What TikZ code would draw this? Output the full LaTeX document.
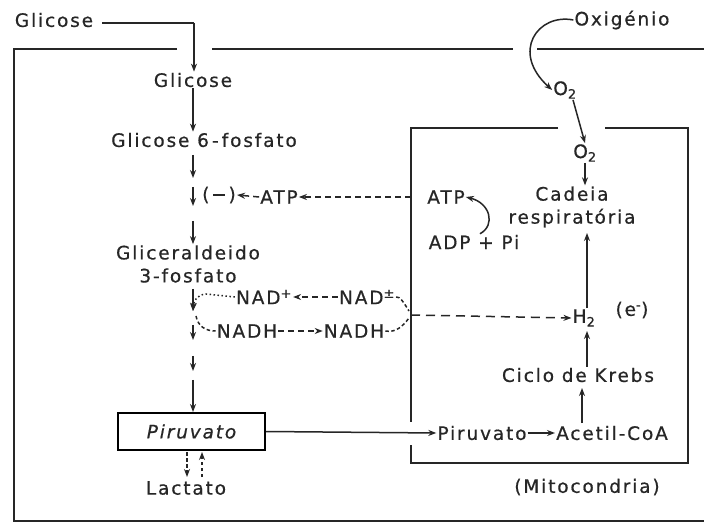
\documentclass[tikz,border=0pt]{standalone}
\usepackage{fontspec}
\setmainfont{DejaVu Sans}[LetterSpace=10,FakeBold=0.6]
\usetikzlibrary{arrows.meta}
\begin{document}
\begin{tikzpicture}[x=1pt,y=-1pt,
  lbl/.style={inner sep=1pt, text=black!85, font=\fontsize{18.5}{23}\selectfont},
  arr/.style={-{Stealth[length=8pt,width=6pt]}, line width=1.5pt, draw=black!85},
  ln/.style={line width=1.5pt, draw=black!85},
  frame/.style={line width=2.7pt, draw=black!85},
  dsh/.style={dash pattern=on 6pt off 4pt},
  sdsh/.style={dash pattern=on 3.5pt off 2.5pt},
  ldsh/.style={dash pattern=on 9pt off 6pt},
  dott/.style={dash pattern=on 1.5pt off 2.5pt}]
\useasboundingbox[fill=white] (0,0) rectangle (704,526);
% outer cell frame
\draw[frame] (177,49) -- (14,49) -- (14,521) -- (704,521);
\draw[frame] (212,49) -- (513,49);
\draw[frame] (537,49) -- (704,49);
% mitochondrion frame
\draw[frame,line width=2.3pt] (558,128) -- (411,128) -- (411,422);
\draw[frame,line width=2.3pt] (411,445) -- (411,463) -- (688,463) -- (688,128) -- (605,128);
% nodes
\node[lbl] (g0) at (54,20) {Glicose};
\node[lbl] (g1) at (193,80) {Glicose};
\node[lbl] (g6p) at (204,140) {Glicose 6\,-\,fosfato};
\node[lbl] (minus) at (219,195) {(−)};
\node[lbl] (atp1) at (279,197) {ATP};
\node[lbl,align=center] (ga) at (188,264) {Gliceraldeido\\3-fosfato};
\node[lbl] (nadp1) at (264,297) {NAD\textsuperscript{+}};
\node[lbl] (nadp2) at (367,297) {NAD\textsuperscript{±}};
\node[lbl] (nadh1) at (247,331) {NADH};
\node[lbl] (nadh2) at (354,331) {NADH};
\node[lbl,draw,line width=2pt,minimum width=147pt,minimum height=37pt,font=\fontsize{18.5}{23}\selectfont\itshape] (pir1) at (191.5,431.5) {Piruvato};
\node[lbl] (lac) at (186,488) {Lactato};
\node[lbl] (oxi) at (622,20) {Oxigénio};
\node[lbl] (o2a) at (565,90) {O\textsubscript{2}};
\node[lbl] (o2b) at (585,153) {O\textsubscript{2}};
\node[lbl,align=center] (cad) at (572,207) {Cadeia\\respiratória};
\node[lbl] (atp2) at (446,197) {ATP};
\node[lbl] (adp) at (474,242) {ADP + Pi};
\node[lbl] (h2) at (584,318) {H\textsubscript{2}};
\node[lbl] (el) at (632,310) {(e\textsuperscript{-})};
\node[lbl] (krebs) at (578,375) {Ciclo de Krebs};
\node[lbl] (pir2) at (482,433) {Piruvato};
\node[lbl] (acet) at (612,433) {Acetil-CoA};
\node[lbl] (mito) at (587,487) {(Mitocondria)};
% coordinates
\coordinate (gc) at (194,23);
\coordinate (a0s) at (193,155);
\coordinate (a1) at (193,178);
\coordinate (a2s) at (193,187);
\coordinate (a2) at (193,206);
\coordinate (a3s) at (193,221);
\coordinate (n1) at (193,311);
\coordinate (n2s) at (193,325);
\coordinate (n2) at (193,340);
\coordinate (n3s) at (193,356);
\coordinate (n3) at (193,371);
\coordinate (n4s) at (193,380);
\coordinate (e1) at (411,197);
\coordinate (e2) at (411,315);
% main glycolysis arrows
\draw[ln] (g0.east) ++(8,3) -- (gc);
\draw[arr] (gc) -- (g1.north -| gc);
\draw[arr] (g1.south) -- (g1.south |- g6p.north);
\draw[arr] (a0s) -- (a1);
\draw[arr] (a2s) -- (a2);
\draw[arr] (a3s) -- (a3s |- ga.north);
\draw[arr] (193,289) -- (n1);
\draw[arr] (n2s) -- (n2);
\draw[arr] (n3s) -- (n3);
\draw[arr] (n4s) -- (pir1.north -| n4s);
% lactate
\draw[arr,sdsh] (187,452) -- (187,477);
\draw[arr,sdsh] (202,477) -- (202,452);
% ATP control
\draw[arr,dsh] (e1) -- (atp1.east);
\draw[arr,dsh] (atp1.west) -- (minus.east);
% NAD shuttle
\draw[arr,dott] (nadp1.west) -- (206,294) .. controls (197,295) and (194,300) .. (n1);
\draw[ln,sdsh] (196,316) .. controls (198,326) and (205,331) .. (nadh1.west);
\draw[arr,dsh] (nadp2.west) -- (nadp1.east);
\draw[arr,dsh] (nadh1.east) -- (nadh2.west);
\draw[ln,sdsh] (nadp2.east) .. controls (400,296) and (404,303) .. (409,311);
\draw[ln,sdsh] (nadh2.east) .. controls (396,333) and (403,326) .. (409,318);
\draw[arr,ldsh] (e2) -- (h2.west);
% mitochondrion
\draw[arr] (oxi.west) .. controls (538,13) and (510,52) .. (o2a.west);
\draw[arr] (o2a.south) ++(8,0) -- (o2b.north);
\draw[arr] (o2b.south) -- (cad.north -| o2b);
\draw[arr] (h2.north) ++(3,0) -- (587,233);
\draw[arr] (krebs.north -| h2) ++(3,0) -- (587,331);
\draw[arr] (582,423) -- (582,388);
\draw[arr] (adp.north) ++(6,0) .. controls (496,225) and (490,203) .. (atp2.east);
\draw[arr] (pir1.east) -- (pir2.west);
\draw[arr] (pir2.east) -- (acet.west);
\end{tikzpicture}
\end{document}
